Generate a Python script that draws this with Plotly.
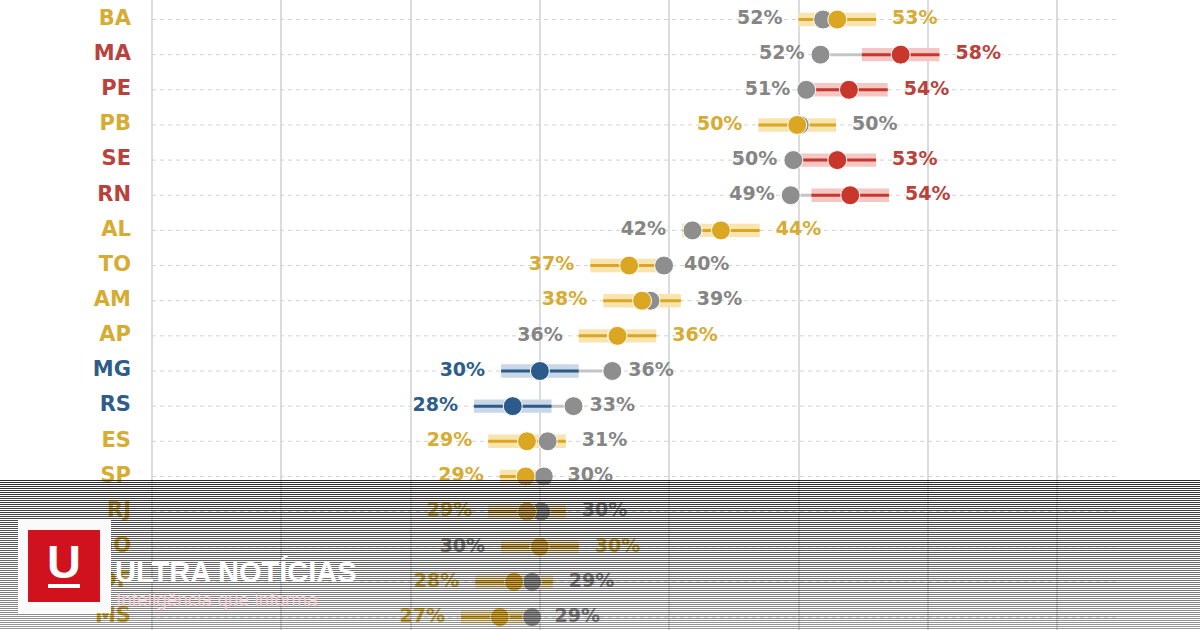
import plotly.graph_objects as go

# ---------------- data ----------------
states = ["BA", "MA", "PE", "PB", "SE", "RN", "AL", "TO", "AM", "AP",
          "MG", "RS", "ES", "SP", "RJ", "GO", "DF", "MS"]
groups = ["gold", "red", "red", "gold", "red", "red", "gold", "gold", "gold", "gold",
          "blue", "blue", "gold", "gold", "gold", "gold", "gold", "gold"]
previous = [51.9, 51.7, 50.6, 50.1, 49.6, 49.4, 41.8, 39.6, 38.55, 35.95,
            35.6, 32.6, 30.6, 30.3, 30.1, 29.95, 29.4, 29.4]
current = [53.0, 57.9, 53.9, 49.9, 53.0, 54.0, 44.0, 36.9, 37.9, 36.0,
           30.0, 27.9, 29.0, 28.9, 29.0, 30.0, 28.0, 26.9]
error_margin = [3, 3, 3, 3, 3, 3, 3, 3, 3, 3, 3, 3, 3, 2, 3, 3, 3, 3]
grid_ticks = [0, 10, 20, 30, 40, 50, 60, 70]

# ---------------- styles ----------------
DOT = {"gold": "#DBA621", "red": "#C9372C", "blue": "#2B5B8B"}
TXT = {"gold": "#D6AC32", "red": "#B9433C", "blue": "#2E5D8A"}
BAND = {"gold": "#F7E4AE", "red": "#F4C7C5", "blue": "#CAD7E6"}
GRAY_DOT = "#8E8E8E"
GRAY_TXT = "#858585"
GRAY_LINE = "#C4C4C4"
FONT = "DejaVu Sans"

W, H = 1200, 630
PX_PER_UNIT = 12.93          # pixels per percentage point
X0_PX = 152                  # pixel of 0 %
ROW_PX = 35.15
FIRST_ROW_PX = 19.5

x_range = [-X0_PX / PX_PER_UNIT, (W - X0_PX) / PX_PER_UNIT]
y_range = [len(states) - 1 + (H - FIRST_ROW_PX - (len(states) - 1) * ROW_PX) / ROW_PX,
           -FIRST_ROW_PX / ROW_PX]
off = 16 / PX_PER_UNIT
grid_end = (1118 - X0_PX) / PX_PER_UNIT

rows = list(range(len(states)))
lo = [c - m for c, m in zip(current, error_margin)]
hi = [c + m for c, m in zip(current, error_margin)]

fig = go.Figure()

# dashed row guides
gx, gy = [], []
for i in rows:
    gx += [0, grid_end, None]
    gy += [i, i, None]
fig.add_trace(go.Scatter(x=gx, y=gy, mode="lines", hoverinfo="skip",
                         line=dict(color="#D2D2D2", width=1, dash="4px,4px")))

# gray connector
cx, cy = [], []
for i in rows:
    cx += [previous[i], current[i], None]
    cy += [i, i, None]
fig.add_trace(go.Scatter(x=cx, y=cy, mode="lines", hoverinfo="skip",
                         line=dict(color=GRAY_LINE, width=3)))

# confidence bands
fig.add_trace(go.Bar(y=rows, x=[h - l for h, l in zip(hi, lo)], base=lo,
                     orientation="h", width=0.38,
                     marker=dict(color=[BAND[g] for g in groups], line=dict(width=0)),
                     hoverinfo="skip"))

# colored lines inside bands
for g in ["gold", "red", "blue"]:
    lx, ly = [], []
    for i in rows:
        if groups[i] == g:
            lx += [lo[i], hi[i], None]
            ly += [i, i, None]
    fig.add_trace(go.Scatter(x=lx, y=ly, mode="lines", hoverinfo="skip",
                             line=dict(color=DOT[g], width=3)))

# gray dots
fig.add_trace(go.Scatter(x=previous, y=rows, mode="markers",
                         marker=dict(size=19, color=GRAY_DOT,
                                     line=dict(color="white", width=1))))
# colored dots
fig.add_trace(go.Scatter(x=current, y=rows, mode="markers",
                         marker=dict(size=19, color=[DOT[g] for g in groups],
                                     line=dict(color="white", width=1))))

# value labels
lx, lt, lc, rx, rt, rc = [], [], [], [], [], []
for i in rows:
    ptxt = f"{round(previous[i])}%"
    ctxt = f"{round(current[i])}%"
    gcol = TXT[groups[i]]
    lx.append(min(previous[i], lo[i]) - off)
    rx.append(max(previous[i], hi[i]) + off)
    if previous[i] < current[i]:
        lt.append(ptxt); lc.append(GRAY_TXT); rt.append(ctxt); rc.append(gcol)
    else:
        lt.append(ctxt); lc.append(gcol); rt.append(ptxt); rc.append(GRAY_TXT)

fig.add_trace(go.Scatter(x=lx, y=rows, mode="text", text=lt, textposition="middle left",
                         textfont=dict(family=FONT, size=19, color=lc, weight="bold"),
                         cliponaxis=False))
fig.add_trace(go.Scatter(x=rx, y=rows, mode="text", text=rt, textposition="middle right",
                         textfont=dict(family=FONT, size=19, color=rc, weight="bold"),
                         cliponaxis=False))

# state labels
fig.add_trace(go.Scatter(x=[(131 - X0_PX) / PX_PER_UNIT] * len(states), y=rows,
                         mode="text", text=states, textposition="middle left",
                         textfont=dict(family=FONT, size=21,
                                       color=[TXT[g] for g in groups], weight="bold"),
                         cliponaxis=False))

# ---------------- overlay (watermark band) ----------------
shapes = []
n = 75
for k in range(n):
    ypx = 480.5 + 2 * k
    a = 0.92 - 0.47 * k / (n - 1)
    shapes.append(dict(type="line", xref="paper", yref="paper",
                       x0=0, x1=1, y0=1 - ypx / H, y1=1 - ypx / H,
                       line=dict(color=f"rgba(25,25,25,{a:.3f})", width=1.1),
                       layer="above"))

def rect(x0, y0, x1, y1, color):
    return dict(type="rect", xref="paper", yref="paper",
                x0=x0 / W, x1=x1 / W, y0=1 - y1 / H, y1=1 - y0 / H,
                fillcolor=color, line=dict(width=0), layer="above")

shapes.append(rect(18, 520, 111, 613, "#FAFAFA"))
shapes.append(rect(28, 530, 100, 602, "#D0111E"))
shapes.append(rect(48, 584, 80, 588, "#FFFFFF"))

annotations = [
    dict(xref="paper", yref="paper", x=64 / W, y=1 - 561 / H, text="<b>U</b>",
         showarrow=False, xanchor="center", yanchor="middle",
         font=dict(family="Liberation Sans", size=47, color="white")),
    dict(xref="paper", yref="paper", x=113 / W, y=1 - 571 / H, text="<b>ULTRA NOTÍCIAS</b>",
         showarrow=False, xanchor="left", yanchor="middle",
         font=dict(family="Liberation Sans", size=29, color="white")),
    dict(xref="paper", yref="paper", x=114 / W, y=1 - 599 / H, text="Inteligência que informa",
         showarrow=False, xanchor="left", yanchor="middle",
         font=dict(family="Liberation Sans", size=19, color="#F5CDD2")),
]

fig.update_layout(
    width=W, height=H, margin=dict(l=0, r=0, t=0, b=0, pad=0),
    paper_bgcolor="white", plot_bgcolor="white",
    showlegend=False, barmode="overlay",
    shapes=shapes, annotations=annotations,
    xaxis=dict(range=x_range, tickvals=grid_ticks, showticklabels=False,
               showgrid=True, gridcolor="#DCDCDC", gridwidth=1.5,
               zeroline=False, showline=False, ticks="", fixedrange=True),
    yaxis=dict(range=y_range, showgrid=False, showticklabels=False,
               zeroline=False, showline=False, ticks="", fixedrange=True),
)

fig.write_html("out.html", config={"displayModeBar": False},
               post_script="document.body.style.margin='0';document.body.style.overflow='hidden';")
